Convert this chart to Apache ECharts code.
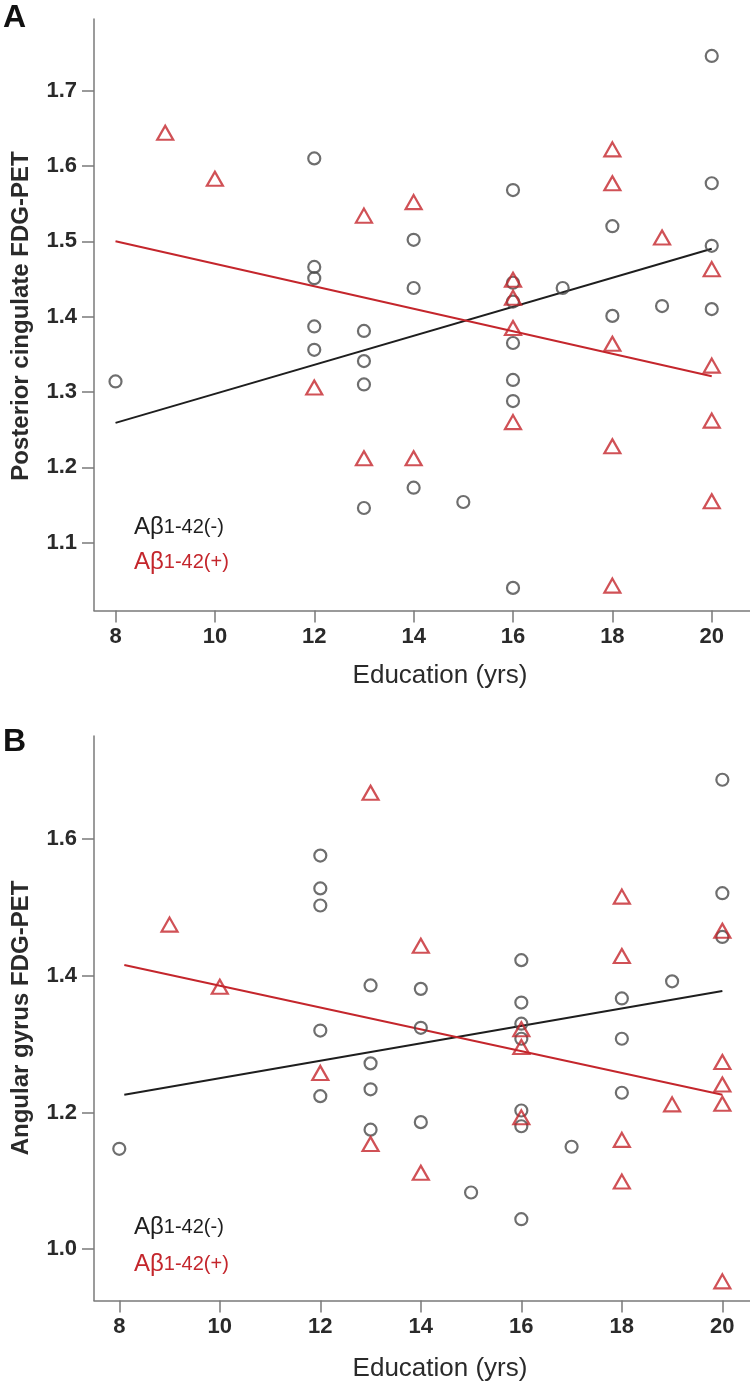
<!DOCTYPE html>
<html><head><meta charset="utf-8">
<script src="https://cdn.jsdelivr.net/npm/echarts@6/dist/echarts.min.js"></script>
<style>html,body{margin:0;padding:0;background:#fff}#c{width:750px;height:1385px}</style>
</head><body><div id="c"></div>
<script>
// ---- data ----
const xTicks = [8, 10, 12, 14, 16, 18, 20];
const yTicksA = [1.1, 1.2, 1.3, 1.4, 1.5, 1.6, 1.7];
const yTicksB = [1.0, 1.2, 1.4, 1.6];

// Panel A: Posterior cingulate FDG-PET
const negA = [[8,1.314],[12,1.610],[12,1.466],[12,1.451],[12,1.387],[12,1.356],[13,1.381],[13,1.341],[13,1.310],[13,1.146],
  [14,1.502],[14,1.438],[14,1.173],[15,1.154],[16,1.568],[16,1.445],[16,1.420],[16,1.365],[16,1.316],[16,1.288],[16,1.040],
  [17,1.438],[18,1.520],[18,1.401],[19,1.414],[20,1.746],[20,1.577],[20,1.494],[20,1.410]];
const posA = [[9,1.644],[10,1.583],[12,1.306],[13,1.534],[13,1.212],[14,1.552],[14,1.212],[16,1.449],[16,1.425],[16,1.385],
  [16,1.260],[18,1.622],[18,1.577],[18,1.364],[18,1.228],[18,1.043],[19,1.505],[20,1.463],[20,1.335],[20,1.262],[20,1.155]];
const fitNegA = [[8,1.259],[20,1.490]];
const fitPosA = [[8,1.500],[20,1.321]];

// Panel B: Angular gyrus FDG-PET
const negB = [[8,1.147],[12,1.576],[12,1.528],[12,1.503],[12,1.320],[12,1.224],[13,1.386],[13,1.272],[13,1.234],[13,1.175],
  [14,1.381],[14,1.324],[14,1.186],[15,1.083],[16,1.423],[16,1.361],[16,1.330],[16,1.308],[16,1.203],[16,1.180],[16,1.044],
  [17,1.150],[18,1.367],[18,1.308],[18,1.229],[19,1.392],[20,1.687],[20,1.521],[20,1.457]];
const posB = [[9,1.475],[10,1.384],[12,1.258],[13,1.668],[13,1.154],[14,1.444],[14,1.112],[16,1.322],[16,1.296],[16,1.193],
  [18,1.516],[18,1.429],[18,1.160],[18,1.099],[19,1.212],[20,1.466],[20,1.274],[20,1.241],[20,1.213],[20,0.953]];
const fitNegB = [[8.1,1.226],[20,1.378]];
const fitPosB = [[8.1,1.416],[20,1.226]];

const xTitle = 'Education (yrs)';
const yTitleA = 'Posterior cingulate FDG-PET';
const yTitleB = 'Angular gyrus FDG-PET';

// ---- styles ----
const RED = '#c4262c', GRAY = '#4a4a4a', BLACK = '#1e1e1e', AX = '#7a7a7a';
const FONT = '"Liberation Sans", Arial, sans-serif';

function xAxis(gi, min, max) {
  return {
    gridIndex: gi, type: 'value', min: min, max: max,
    splitLine: {show: false},
    axisLine: {lineStyle: {color: AX, width: 1.5}},
    axisTick: {show: true, length: 12, customValues: xTicks, lineStyle: {color: AX, width: 1.5}},
    axisLabel: {customValues: xTicks, margin: 15, color: '#2a2a2a', fontFamily: FONT, fontSize: 22, fontWeight: 'bold'}
  };
}
function yAxis(gi, min, max, ticks) {
  return {
    gridIndex: gi, type: 'value', min: min, max: max,
    splitLine: {show: false},
    axisLine: {show: true, lineStyle: {color: AX, width: 1.5}},
    axisTick: {show: true, length: 12, customValues: ticks, lineStyle: {color: AX, width: 1.5}},
    axisLabel: {customValues: ticks, margin: 17, color: '#2a2a2a', fontFamily: FONT, fontSize: 22, fontWeight: 'bold',
      formatter: v => v.toFixed(1)}
  };
}
function circles(idx, data) {
  return {type: 'scatter', xAxisIndex: idx, yAxisIndex: idx, data: data, symbol: 'circle', symbolSize: 12,
    itemStyle: {color: 'rgba(0,0,0,0)', borderColor: GRAY, borderWidth: 2.2}, z: 3, silent: true};
}
function triangles(idx, data) {
  return {type: 'scatter', xAxisIndex: idx, yAxisIndex: idx, data: data, symbol: 'triangle', symbolSize: [16, 14],
    itemStyle: {color: 'rgba(0,0,0,0)', borderColor: RED, borderWidth: 2.2}, z: 4, silent: true};
}
function fit(idx, data, color) {
  return {type: 'line', xAxisIndex: idx, yAxisIndex: idx, data: data, symbol: 'none',
    lineStyle: {color: color, width: 2}, z: 2, silent: true};
}
function legendText(label, color, y) {
  return {type: 'text', left: 134, top: y, style: {
    text: '{a|Aβ}{b|' + label + '}', fill: color,
    rich: {a: {fontFamily: FONT, fontSize: 24, fill: color}, b: {fontFamily: FONT, fontSize: 20, fill: color}}
  }};
}

const chart = echarts.init(document.getElementById('c'), null, {renderer: 'canvas'});
chart.setOption({
  animation: false,
  backgroundColor: '#ffffff',
  grid: [
    {left: 94, top: 19, width: 656, height: 591.5},
    {left: 94, top: 736, width: 656, height: 564.5}
  ],
  xAxis: [xAxis(0, 7.567, 20.77), xAxis(1, 7.497, 20.55)],
  yAxis: [yAxis(0, 1.010, 1.795, yTicksA), yAxis(1, 0.925, 1.751, yTicksB)],
  series: [
    fit(0, fitNegA, BLACK), fit(0, fitPosA, RED), circles(0, negA), triangles(0, posA),
    fit(1, fitNegB, BLACK), fit(1, fitPosB, RED), circles(1, negB), triangles(1, posB)
  ],
  graphic: [
    {type: 'text', left: 3, top: 2, style: {text: 'A', fontFamily: FONT, fontSize: 32, fontWeight: 'bold', fill: '#111'}},
    {type: 'text', left: 3, top: 726, style: {text: 'B', fontFamily: FONT, fontSize: 32, fontWeight: 'bold', fill: '#111'}},
    {type: 'text', x: 440, y: 676, style: {text: xTitle, fontFamily: FONT, fontSize: 26, fill: '#2a2a2a', align: 'center', verticalAlign: 'middle'}},
    {type: 'text', x: 440, y: 1369, style: {text: xTitle, fontFamily: FONT, fontSize: 26, fill: '#2a2a2a', align: 'center', verticalAlign: 'middle'}},
    {type: 'text', x: 21, y: 316, rotation: Math.PI / 2, style: {text: yTitleA, fontFamily: FONT, fontSize: 24, fontWeight: 'bold', fill: '#2a2a2a', align: 'center', verticalAlign: 'middle'}},
    {type: 'text', x: 21, y: 1018, rotation: Math.PI / 2, style: {text: yTitleB, fontFamily: FONT, fontSize: 24, fontWeight: 'bold', fill: '#2a2a2a', align: 'center', verticalAlign: 'middle'}},
    legendText('1-42(-)', BLACK, 515),
    legendText('1-42(+)', RED, 550),
    legendText('1-42(-)', BLACK, 1215),
    legendText('1-42(+)', RED, 1252)
  ]
});
</script></body></html>
